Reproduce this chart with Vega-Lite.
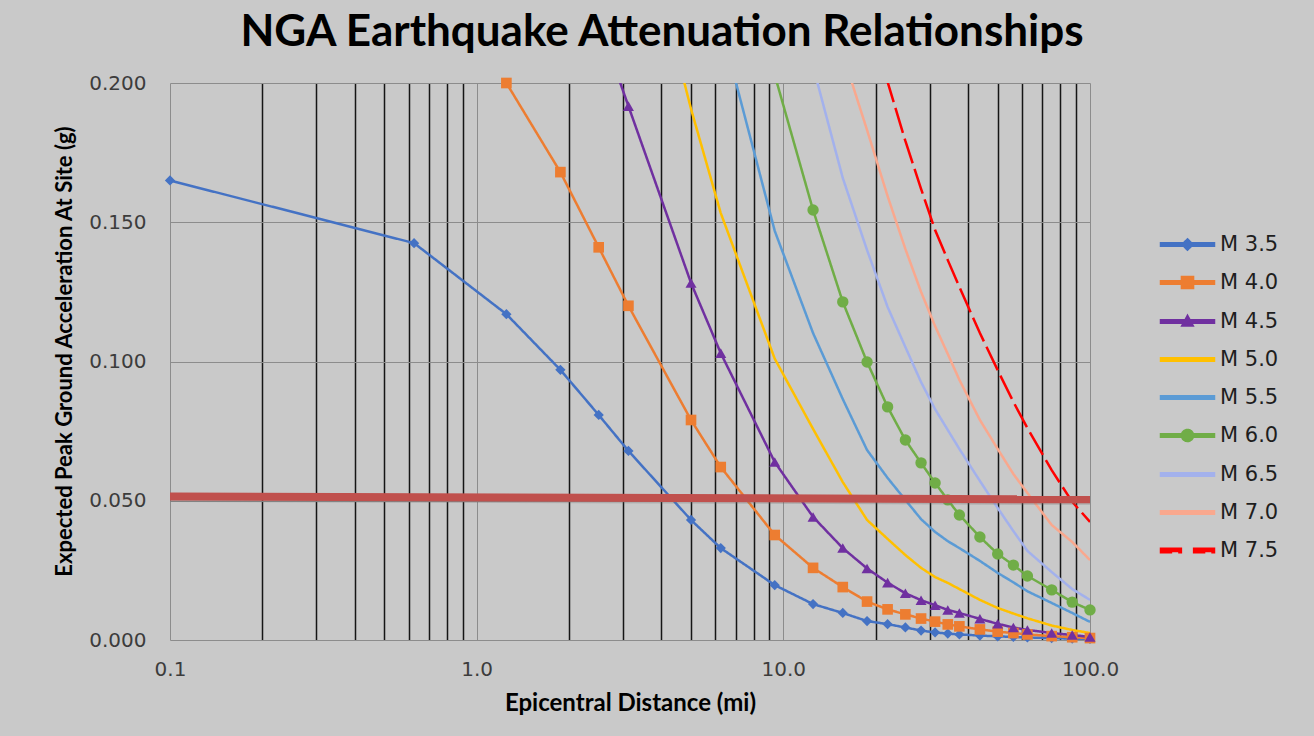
{
  "$schema": "https://vega.github.io/schema/vega-lite/v6.json",
  "autosize": {"type": "none"},
  "width": 920,
  "height": 557,
  "padding": {"left": 170, "top": 83, "right": 224, "bottom": 96},
  "background": "#C9C9C9",
  "title": {
    "text": "NGA Earthquake Attenuation Relationships",
    "font": "Lato",
    "fontSize": 44,
    "fontWeight": "bold",
    "color": "#000000",
    "anchor": "middle",
    "frame": "group",
    "dx": 32,
    "baseline": "alphabetic",
    "offset": -17
  },
  "datasets": {
    "pga": [
      {"m": "M 3.5", "d": 0.1, "g": 0.165},
      {"m": "M 3.5", "d": 0.625, "g": 0.1425},
      {"m": "M 3.5", "d": 1.25, "g": 0.117},
      {"m": "M 3.5", "d": 1.875, "g": 0.097},
      {"m": "M 3.5", "d": 2.5, "g": 0.0808},
      {"m": "M 3.5", "d": 3.125, "g": 0.0679},
      {"m": "M 3.5", "d": 5, "g": 0.0431},
      {"m": "M 3.5", "d": 6.25, "g": 0.033},
      {"m": "M 3.5", "d": 9.375, "g": 0.0197},
      {"m": "M 3.5", "d": 12.5, "g": 0.0129},
      {"m": "M 3.5", "d": 15.625, "g": 0.0097},
      {"m": "M 3.5", "d": 18.75, "g": 0.0068},
      {"m": "M 3.5", "d": 21.875, "g": 0.0057},
      {"m": "M 3.5", "d": 25, "g": 0.0045},
      {"m": "M 3.5", "d": 28.125, "g": 0.0034},
      {"m": "M 3.5", "d": 31.25, "g": 0.0027},
      {"m": "M 3.5", "d": 34.375, "g": 0.0023},
      {"m": "M 3.5", "d": 37.5, "g": 0.002},
      {"m": "M 3.5", "d": 43.75, "g": 0.0016},
      {"m": "M 3.5", "d": 50, "g": 0.0013},
      {"m": "M 3.5", "d": 56.25, "g": 0.0011},
      {"m": "M 3.5", "d": 62.5, "g": 0.0009},
      {"m": "M 3.5", "d": 75, "g": 0.0007},
      {"m": "M 3.5", "d": 87.5, "g": 0.0005},
      {"m": "M 3.5", "d": 100, "g": 0.0004},

      {"m": "M 4.0", "d": 1.25, "g": 0.2},
      {"m": "M 4.0", "d": 1.875, "g": 0.168},
      {"m": "M 4.0", "d": 2.5, "g": 0.141},
      {"m": "M 4.0", "d": 3.125, "g": 0.12},
      {"m": "M 4.0", "d": 5, "g": 0.079},
      {"m": "M 4.0", "d": 6.25, "g": 0.0621},
      {"m": "M 4.0", "d": 9.375, "g": 0.0377},
      {"m": "M 4.0", "d": 12.5, "g": 0.0259},
      {"m": "M 4.0", "d": 15.625, "g": 0.019},
      {"m": "M 4.0", "d": 18.75, "g": 0.0138},
      {"m": "M 4.0", "d": 21.875, "g": 0.011},
      {"m": "M 4.0", "d": 25, "g": 0.0092},
      {"m": "M 4.0", "d": 28.125, "g": 0.0077},
      {"m": "M 4.0", "d": 31.25, "g": 0.0066},
      {"m": "M 4.0", "d": 34.375, "g": 0.0056},
      {"m": "M 4.0", "d": 37.5, "g": 0.0049},
      {"m": "M 4.0", "d": 43.75, "g": 0.0038},
      {"m": "M 4.0", "d": 50, "g": 0.003},
      {"m": "M 4.0", "d": 56.25, "g": 0.0025},
      {"m": "M 4.0", "d": 62.5, "g": 0.002},
      {"m": "M 4.0", "d": 75, "g": 0.0014},
      {"m": "M 4.0", "d": 87.5, "g": 0.001},
      {"m": "M 4.0", "d": 100, "g": 0.0007},

      {"m": "M 4.5", "d": 2.5, "g": 0.222},
      {"m": "M 4.5", "d": 3.125, "g": 0.1917},
      {"m": "M 4.5", "d": 5, "g": 0.1282},
      {"m": "M 4.5", "d": 6.25, "g": 0.103},
      {"m": "M 4.5", "d": 9.375, "g": 0.0639},
      {"m": "M 4.5", "d": 12.5, "g": 0.0442},
      {"m": "M 4.5", "d": 15.625, "g": 0.033},
      {"m": "M 4.5", "d": 18.75, "g": 0.0257},
      {"m": "M 4.5", "d": 21.875, "g": 0.0206},
      {"m": "M 4.5", "d": 25, "g": 0.0168},
      {"m": "M 4.5", "d": 28.125, "g": 0.0143},
      {"m": "M 4.5", "d": 31.25, "g": 0.0125},
      {"m": "M 4.5", "d": 34.375, "g": 0.0108},
      {"m": "M 4.5", "d": 37.5, "g": 0.0097},
      {"m": "M 4.5", "d": 43.75, "g": 0.0076},
      {"m": "M 4.5", "d": 50, "g": 0.0058},
      {"m": "M 4.5", "d": 56.25, "g": 0.0045},
      {"m": "M 4.5", "d": 62.5, "g": 0.0036},
      {"m": "M 4.5", "d": 75, "g": 0.0025},
      {"m": "M 4.5", "d": 87.5, "g": 0.0018},
      {"m": "M 4.5", "d": 100, "g": 0.0011},

      {"m": "M 5.0", "d": 3.125, "g": 0.279},
      {"m": "M 5.0", "d": 5, "g": 0.1907},
      {"m": "M 5.0", "d": 6.25, "g": 0.1533},
      {"m": "M 5.0", "d": 9.375, "g": 0.101},
      {"m": "M 5.0", "d": 12.5, "g": 0.0758},
      {"m": "M 5.0", "d": 15.625, "g": 0.0567},
      {"m": "M 5.0", "d": 18.75, "g": 0.0431},
      {"m": "M 5.0", "d": 21.875, "g": 0.0363},
      {"m": "M 5.0", "d": 25, "g": 0.0305},
      {"m": "M 5.0", "d": 28.125, "g": 0.0259},
      {"m": "M 5.0", "d": 31.25, "g": 0.0226},
      {"m": "M 5.0", "d": 34.375, "g": 0.0205},
      {"m": "M 5.0", "d": 37.5, "g": 0.0183},
      {"m": "M 5.0", "d": 43.75, "g": 0.0144},
      {"m": "M 5.0", "d": 50, "g": 0.0115},
      {"m": "M 5.0", "d": 56.25, "g": 0.0095},
      {"m": "M 5.0", "d": 62.5, "g": 0.0078},
      {"m": "M 5.0", "d": 75, "g": 0.0052},
      {"m": "M 5.0", "d": 87.5, "g": 0.0036},
      {"m": "M 5.0", "d": 100, "g": 0.0025},

      {"m": "M 5.5", "d": 6.25, "g": 0.221},
      {"m": "M 5.5", "d": 9.375, "g": 0.1469},
      {"m": "M 5.5", "d": 12.5, "g": 0.1102},
      {"m": "M 5.5", "d": 15.625, "g": 0.0865},
      {"m": "M 5.5", "d": 18.75, "g": 0.0682},
      {"m": "M 5.5", "d": 21.875, "g": 0.0582},
      {"m": "M 5.5", "d": 25, "g": 0.0503},
      {"m": "M 5.5", "d": 28.125, "g": 0.0434},
      {"m": "M 5.5", "d": 31.25, "g": 0.0388},
      {"m": "M 5.5", "d": 34.375, "g": 0.0355},
      {"m": "M 5.5", "d": 37.5, "g": 0.033},
      {"m": "M 5.5", "d": 43.75, "g": 0.0284},
      {"m": "M 5.5", "d": 50, "g": 0.0241},
      {"m": "M 5.5", "d": 56.25, "g": 0.0207},
      {"m": "M 5.5", "d": 62.5, "g": 0.0175},
      {"m": "M 5.5", "d": 75, "g": 0.0133},
      {"m": "M 5.5", "d": 87.5, "g": 0.0097},
      {"m": "M 5.5", "d": 100, "g": 0.0065},

      {"m": "M 6.0", "d": 9.375, "g": 0.2029},
      {"m": "M 6.0", "d": 12.5, "g": 0.1544},
      {"m": "M 6.0", "d": 15.625, "g": 0.1214},
      {"m": "M 6.0", "d": 18.75, "g": 0.0998},
      {"m": "M 6.0", "d": 21.875, "g": 0.0837},
      {"m": "M 6.0", "d": 25, "g": 0.0718},
      {"m": "M 6.0", "d": 28.125, "g": 0.0636},
      {"m": "M 6.0", "d": 31.25, "g": 0.0564},
      {"m": "M 6.0", "d": 34.375, "g": 0.0503},
      {"m": "M 6.0", "d": 37.5, "g": 0.0449},
      {"m": "M 6.0", "d": 43.75, "g": 0.037},
      {"m": "M 6.0", "d": 50, "g": 0.0309},
      {"m": "M 6.0", "d": 56.25, "g": 0.0269},
      {"m": "M 6.0", "d": 62.5, "g": 0.023},
      {"m": "M 6.0", "d": 75, "g": 0.018},
      {"m": "M 6.0", "d": 87.5, "g": 0.0136},
      {"m": "M 6.0", "d": 100, "g": 0.0108},

      {"m": "M 6.5", "d": 12.5, "g": 0.206},
      {"m": "M 6.5", "d": 15.625, "g": 0.1659},
      {"m": "M 6.5", "d": 18.75, "g": 0.14},
      {"m": "M 6.5", "d": 21.875, "g": 0.1196},
      {"m": "M 6.5", "d": 25, "g": 0.1052},
      {"m": "M 6.5", "d": 28.125, "g": 0.0926},
      {"m": "M 6.5", "d": 31.25, "g": 0.0829},
      {"m": "M 6.5", "d": 34.375, "g": 0.0754},
      {"m": "M 6.5", "d": 37.5, "g": 0.0686},
      {"m": "M 6.5", "d": 43.75, "g": 0.0571},
      {"m": "M 6.5", "d": 50, "g": 0.0474},
      {"m": "M 6.5", "d": 56.25, "g": 0.0391},
      {"m": "M 6.5", "d": 62.5, "g": 0.032},
      {"m": "M 6.5", "d": 75, "g": 0.0244},
      {"m": "M 6.5", "d": 87.5, "g": 0.0183},
      {"m": "M 6.5", "d": 100, "g": 0.0144},

      {"m": "M 7.0", "d": 15.625, "g": 0.2104},
      {"m": "M 7.0", "d": 18.75, "g": 0.1831},
      {"m": "M 7.0", "d": 21.875, "g": 0.1594},
      {"m": "M 7.0", "d": 25, "g": 0.1404},
      {"m": "M 7.0", "d": 28.125, "g": 0.125},
      {"m": "M 7.0", "d": 31.25, "g": 0.1127},
      {"m": "M 7.0", "d": 34.375, "g": 0.1027},
      {"m": "M 7.0", "d": 37.5, "g": 0.0934},
      {"m": "M 7.0", "d": 43.75, "g": 0.079},
      {"m": "M 7.0", "d": 50, "g": 0.0686},
      {"m": "M 7.0", "d": 56.25, "g": 0.0596},
      {"m": "M 7.0", "d": 62.5, "g": 0.0528},
      {"m": "M 7.0", "d": 75, "g": 0.0413},
      {"m": "M 7.0", "d": 87.5, "g": 0.0352},
      {"m": "M 7.0", "d": 100, "g": 0.0287},

      {"m": "M 7.5", "d": 18.75, "g": 0.224},
      {"m": "M 7.5", "d": 21.875, "g": 0.2004},
      {"m": "M 7.5", "d": 25, "g": 0.1792},
      {"m": "M 7.5", "d": 28.125, "g": 0.162},
      {"m": "M 7.5", "d": 31.25, "g": 0.1472},
      {"m": "M 7.5", "d": 34.375, "g": 0.1364},
      {"m": "M 7.5", "d": 37.5, "g": 0.1268},
      {"m": "M 7.5", "d": 43.75, "g": 0.1102},
      {"m": "M 7.5", "d": 50, "g": 0.0969},
      {"m": "M 7.5", "d": 56.25, "g": 0.0855},
      {"m": "M 7.5", "d": 62.5, "g": 0.0761},
      {"m": "M 7.5", "d": 75, "g": 0.061},
      {"m": "M 7.5", "d": 87.5, "g": 0.0496},
      {"m": "M 7.5", "d": 100, "g": 0.0424}
    ],
    "limit": [
      {"d": 0.1, "g": 0.0515},
      {"d": 100, "g": 0.0505}
    ]
  },
  "encoding": {
    "x": {
      "field": "d",
      "type": "quantitative",
      "scale": {"type": "log", "domain": [0.1, 100], "nice": false},
      "axis": {
        "title": "Epicentral Distance (mi)",
        "values": [0.1, 0.2, 0.3, 0.4, 0.5, 0.6, 0.7, 0.8, 0.9, 1, 2, 3, 4, 5, 6, 7, 8, 9, 10, 20, 30, 40, 50, 60, 70, 80, 90, 100],
        "labelExpr": "abs(log(datum.value)/LN10 - round(log(datum.value)/LN10)) < 0.001 ? format(datum.value, '.1f') : ''",
        "labelPadding": 19,
        "labelFlush": false,
        "labelOverlap": false,
        "titlePadding": 12,
        "gridColor": {"condition": {"test": "abs(log(datum.value)/LN10 - round(log(datum.value)/LN10)) < 0.001", "value": "#8C8C8C"}, "value": "#151515"},
        "gridWidth": {"condition": {"test": "abs(log(datum.value)/LN10 - round(log(datum.value)/LN10)) < 0.001", "value": 1}, "value": 1.5}
      }
    },
    "y": {
      "field": "g",
      "type": "quantitative",
      "scale": {"domain": [0, 0.2], "nice": false, "zero": true},
      "axis": {
        "title": "Expected Peak Ground Acceleration At Site (g)",
        "titleY": 268,
        "values": [0, 0.05, 0.1, 0.15, 0.2],
        "format": ".3f",
        "labelPadding": 24,
        "labelFlush": false,
        "titlePadding": 12,
        "gridColor": "#8C8C8C",
        "gridWidth": 1
      }
    }
  },
  "layer": [
    {
      "data": {"name": "pga"},
      "mark": {"type": "line", "clip": true, "interpolate": "linear"},
      "encoding": {
        "color": {
          "field": "m",
          "type": "nominal",
          "scale": {
            "domain": ["M 3.5", "M 4.0", "M 4.5", "M 5.0", "M 5.5", "M 6.0", "M 6.5", "M 7.0", "M 7.5"],
            "range": ["#4472C4", "#ED7D31", "#7030A0", "#FFC000", "#5B9BD5", "#70AD47", "#A3B1EC", "#F9A88E", "#FF0000"]
          },
          "legend": {
            "title": null,
            "orient": "none",
            "legendX": 1003,
            "legendY": 147,
            "padding": 0,
            "symbolSize": 702,
            "symbolStrokeWidth": 0,
            "labelOffset": 18,
            "rowPadding": 13,
            "labelFont": "DejaVu Sans",
            "labelFontSize": 21,
            "labelColor": "#1E1E1E",
            "encode": {
              "symbols": {
                "update": {
                  "shape": {"signal": "datum.value === 'M 3.5' ? 'M-2,-0.1H2V0.1H-2Z M0,-0.38L0.38,0L0,0.38L-0.38,0Z' : datum.value === 'M 4.0' ? 'M-2,-0.1H2V0.1H-2Z M-0.42,-0.42H0.42V0.42H-0.42Z' : datum.value === 'M 4.5' ? 'M-2,-0.1H2V0.1H-2Z M0,-0.4L0.38,0.3H-0.38Z' : datum.value === 'M 6.0' ? 'M-2,-0.1H2V0.1H-2Z M0.42,0A0.42,0.42,0,1,1,-0.42,0A0.42,0.42,0,1,1,0.42,0Z' : datum.value === 'M 7.5' ? 'M-2,-0.13H-0.5V0.13H-2Z M0.5,-0.13H2V0.13H0.5Z' : 'M-2,-0.1H2V0.1H-2Z'"},
                  "fill": {"signal": "scale('color', datum.value)"},
                  "stroke": {"value": "transparent"},
                  "strokeWidth": {"value": 0},
                  "size": {"value": 702},
                  "opacity": {"value": 1}
                }
              }
            }
          }
        },
        "strokeDash": {
          "field": "m",
          "type": "nominal",
          "scale": {
            "domain": ["M 3.5", "M 4.0", "M 4.5", "M 5.0", "M 5.5", "M 6.0", "M 6.5", "M 7.0", "M 7.5"],
            "range": [[1, 0], [1, 0], [1, 0], [1, 0], [1, 0], [1, 0], [1, 0], [1, 0], [26, 6]]
          },
          "legend": null
        },
        "strokeWidth": {
          "field": "m",
          "type": "nominal",
          "scale": {
            "domain": ["M 3.5", "M 4.0", "M 4.5", "M 5.0", "M 5.5", "M 6.0", "M 6.5", "M 7.0", "M 7.5"],
            "range": [2.5, 2.5, 2.5, 2.5, 2.5, 2.5, 2.5, 2.5, 3.5]
          },
          "legend": null
        }
      }
    },
    {
      "data": {"name": "pga"},
      "transform": [
        {"filter": {"field": "m", "oneOf": ["M 3.5", "M 4.0", "M 4.5", "M 6.0"]}},
        {"filter": "datum.g <= 0.2001"}
      ],
      "mark": {"type": "point", "filled": true, "opacity": 1, "strokeWidth": 0},
      "encoding": {
        "fill": {
          "field": "m",
          "type": "nominal",
          "scale": {
            "domain": ["M 3.5", "M 4.0", "M 4.5", "M 6.0"],
            "range": ["#4472C4", "#ED7D31", "#7030A0", "#70AD47"]
          },
          "legend": null
        },
        "shape": {
          "field": "m",
          "type": "nominal",
          "scale": {
            "domain": ["M 3.5", "M 4.0", "M 4.5", "M 6.0"],
            "range": ["diamond", "square", "triangle-up", "circle"]
          },
          "legend": null
        },
        "size": {
          "field": "m",
          "type": "nominal",
          "scale": {
            "domain": ["M 3.5", "M 4.0", "M 4.5", "M 6.0"],
            "range": [105, 130, 100, 130]
          },
          "legend": null
        }
      }
    },
    {
      "data": {"name": "limit"},
      "mark": {"type": "line", "color": "#6E6E6E", "opacity": 0.3, "strokeWidth": 7, "yOffset": 2, "strokeCap": "butt"},
      "encoding": {}
    },
    {
      "data": {"name": "limit"},
      "mark": {"type": "line", "color": "#C0504D", "strokeWidth": 8, "strokeCap": "butt"},
      "encoding": {}
    }
  ],
  "config": {
    "view": {"stroke": null},
    "font": "DejaVu Sans",
    "axis": {
      "domain": false,
      "ticks": false,
      "grid": true,
      "labelFont": "DejaVu Sans",
      "labelFontSize": 20,
      "labelColor": "#3C3C3C",
      "titleFont": "Lato",
      "titleFontWeight": "bold",
      "titleColor": "#000000"
    },
    "axisX": {"titleFontSize": 24},
    "axisY": {"titleFontSize": 22}
  }
}
